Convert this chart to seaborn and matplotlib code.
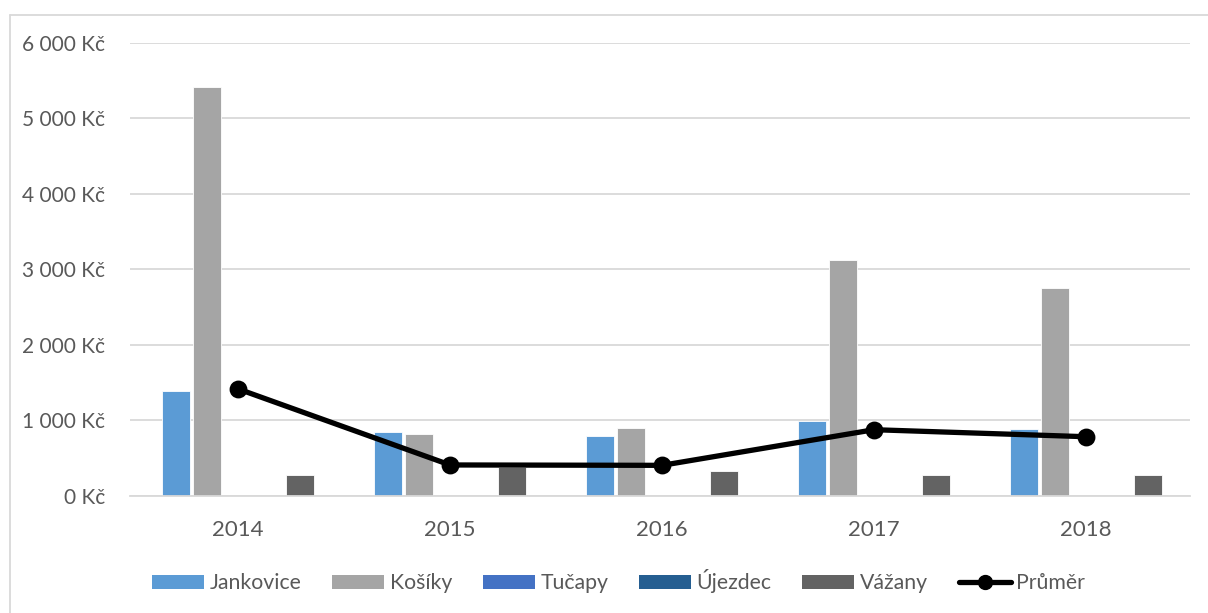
import pandas as pd
import matplotlib
matplotlib.use('Agg')
import matplotlib.pyplot as plt
from matplotlib.lines import Line2D
from matplotlib.patches import Patch
from matplotlib.ticker import FuncFormatter, MultipleLocator
import seaborn as sns

sns.set_theme(style='white')
plt.rcParams['font.family'] = ['Lato', 'DejaVu Sans']

# data (Kč)
years = ['2014', '2015', '2016', '2017', '2018']
obce = ['Jankovice', 'Košíky', 'Tučapy', 'Újezdec', 'Vážany']
jankovice = [1390, 850, 795, 990, 887]
kosiky = [5420, 820, 900, 3120, 2755]
tucapy = [0, 0, 0, 0, 0]
ujezdec = [0, 0, 0, 0, 0]
vazany = [278, 380, 330, 278, 278]
prumer = [1417, 410, 405, 877, 784]

colors = ['#5B9BD5', '#A5A5A5', '#4472C4', '#255E91', '#636363']
text_col = '#595959'
grid_col = '#D9D9D9'

series = [jankovice, kosiky, tucapy, ujezdec, vazany]
df = pd.DataFrame([
    {'rok': y, 'obec': o, 'hodnota': vals[i]}
    for o, vals in zip(obce, series)
    for i, y in enumerate(years)
])
avg_df = pd.DataFrame({'rok': years, 'prumer': prumer})

fig = plt.figure(figsize=(12.08, 6.13), dpi=100)
ax = fig.add_axes([0.1076, 0.191, 0.8774, 0.739])

sns.barplot(data=df, x='rok', y='hodnota', hue='obec', order=years,
            hue_order=obce, palette=colors, width=0.73, gap=0.1,
            saturation=1, edgecolor='white', linewidth=0.6, ax=ax, legend=False)
sns.pointplot(data=avg_df, x='rok', y='prumer', order=years, color='black',
              markers='o', markersize=10, linewidth=3.8, ax=ax)

ax.set_ylim(0, 6000)
ax.set_xlim(-0.51, 4.49)
ax.yaxis.set_major_locator(MultipleLocator(1000))
ax.yaxis.set_major_formatter(FuncFormatter(lambda v, p: f'{int(v):,}'.replace(',', ' ') + ' Kč'))
ax.grid(axis='y', color=grid_col, linewidth=1.3)
ax.set_axisbelow(True)
for s in ['top', 'right', 'left']:
    ax.spines[s].set_visible(False)
ax.spines['bottom'].set_color(grid_col)
ax.spines['bottom'].set_linewidth(1.3)
ax.tick_params(axis='y', length=0, labelsize=15, labelcolor=text_col, pad=18)
ax.tick_params(axis='x', length=0, labelsize=16, labelcolor=text_col, pad=17)
ax.set_xlabel('')
ax.set_ylabel('')

handles = [Patch(facecolor=c, edgecolor='none') for c in colors]
handles.append(Line2D([], [], color='black', linewidth=3.8, marker='o', markersize=10))
labels = obce + ['Průměr']
fig.legend(handles, labels, loc='center', bbox_to_anchor=(0.512, 0.052), ncol=6,
           frameon=False, fontsize=15.3, labelcolor=text_col, handlelength=2.45,
           handleheight=0.65, handletextpad=0.25, columnspacing=1.45)

# chart area border (top and left visible in the reference)
fig.add_artist(Line2D([0.008, 1.0], [0.975, 0.975], color=grid_col, linewidth=1.3,
                      transform=fig.transFigure))
fig.add_artist(Line2D([0.008, 0.008], [0.0, 0.975], color=grid_col, linewidth=1.3,
                      transform=fig.transFigure))

fig.savefig('out.png', dpi=100)
plt.close(fig)
